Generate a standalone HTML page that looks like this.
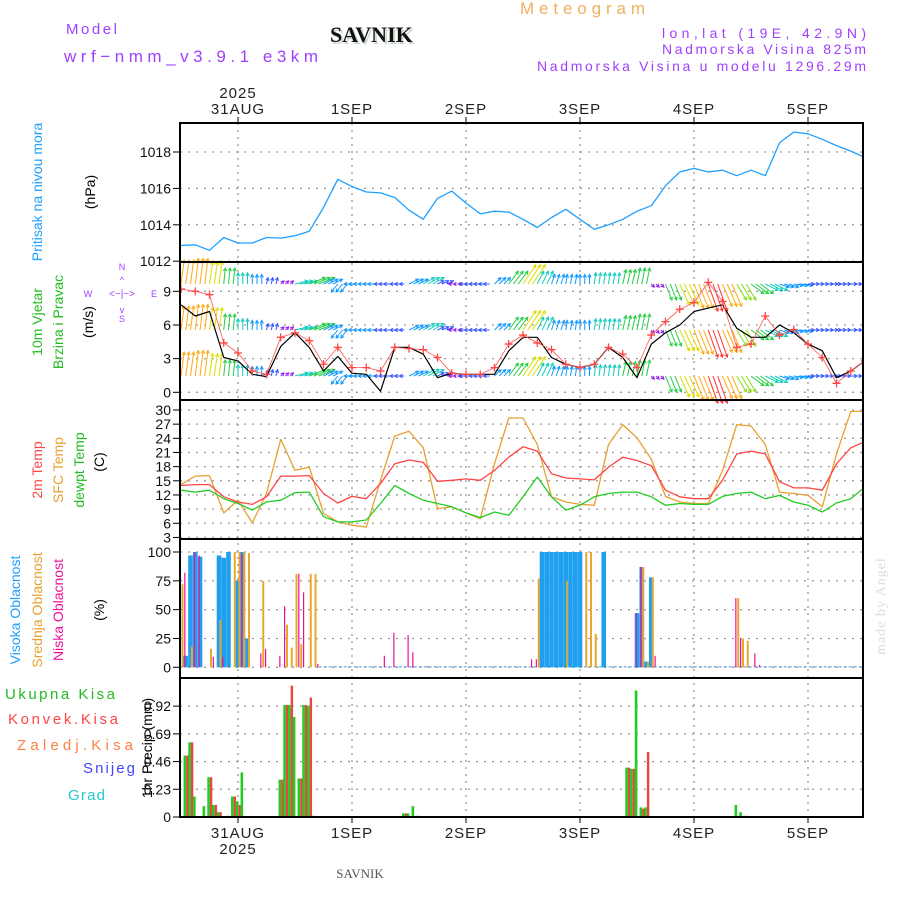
<!DOCTYPE html>
<html><head><meta charset="utf-8"><title>Meteogram SAVNIK</title>
<style>
html,body{margin:0;padding:0;background:#fff;}
svg{display:block;font-family:"Liberation Sans",sans-serif;}
</style></head>
<body>
<svg id="chart" width="900" height="900" viewBox="0 0 900 900" xmlns="http://www.w3.org/2000/svg">
<defs><clipPath id="plotclip"><rect x="180" y="123" width="683" height="694"/></clipPath></defs>
<g>
<text x="520" y="14" fill="#f0b060" font-size="17" textLength="125" lengthAdjust="spacing">Meteogram</text>
<text x="332" y="44" fill="#c8d8c8" font-family="Liberation Serif,serif" font-weight="bold" font-size="22">SAVNIK</text>
<text x="330" y="42" fill="#111" font-family="Liberation Serif,serif" font-weight="bold" font-size="22">SAVNIK</text>
<text x="66" y="34" fill="#a040ff" font-size="15" textLength="51" lengthAdjust="spacing">Model</text>
<text x="64" y="62" fill="#a040ff" font-size="17" textLength="254" lengthAdjust="spacing">wrf−nmm_v3.9.1 e3km</text>
<text x="662" y="38" fill="#a040ff" font-size="14" textLength="204" lengthAdjust="spacing">lon,lat (19E, 42.9N)</text>
<text x="662" y="54" fill="#a040ff" font-size="14" textLength="204" lengthAdjust="spacing">Nadmorska Visina 825m</text>
<text x="537" y="71" fill="#a040ff" font-size="14" textLength="329" lengthAdjust="spacing">Nadmorska Visina u modelu 1296.29m</text>
<text x="238" y="98" fill="#222" font-size="15" text-anchor="middle" letter-spacing="1">2025</text>
<text x="360" y="878" fill="#555" font-size="13" font-family="Liberation Serif,serif" text-anchor="middle">SAVNIK</text>
<text x="0" y="0" fill="#d8e0d8" font-size="14" font-family="Liberation Serif,serif" letter-spacing="1" transform="translate(885,655) rotate(-90)">made by Angel</text>
</g>
<g id="labels">
<text transform="translate(42,192) rotate(-90)" text-anchor="middle" fill="#1ea0ff" font-size="14">Pritisak na nivou mora</text>
<text transform="translate(95,192) rotate(-90)" text-anchor="middle" fill="#000" font-size="14">(hPa)</text>
<text transform="translate(42,322) rotate(-90)" text-anchor="middle" fill="#22bb22" font-size="14">10m Vjetar</text>
<text transform="translate(63,322) rotate(-90)" text-anchor="middle" fill="#22bb22" font-size="14">Brzina i Pravac</text>
<text transform="translate(93,322) rotate(-90)" text-anchor="middle" fill="#000" font-size="14">(m/s)</text>
<g fill="#a040ff" font-size="9">
<text x="122" y="270" text-anchor="middle">N</text><text x="122" y="322" text-anchor="middle">S</text>
<text x="88" y="297" text-anchor="middle">W</text><text x="154" y="297" text-anchor="middle">E</text>
<text x="122" y="297" text-anchor="middle" font-size="10">&lt;−|−&gt;</text>
<text x="122" y="283" text-anchor="middle">^</text><text x="122" y="313" text-anchor="middle">v</text>
</g>
<text transform="translate(42,470) rotate(-90)" text-anchor="middle" fill="#ff4444" font-size="14">2m Temp</text>
<text transform="translate(63,470) rotate(-90)" text-anchor="middle" fill="#e8a030" font-size="14">SFC Temp</text>
<text transform="translate(84,470) rotate(-90)" text-anchor="middle" fill="#22bb22" font-size="14">dewpt Temp</text>
<text transform="translate(104,462) rotate(-90)" text-anchor="middle" fill="#000" font-size="14">(C)</text>
<text transform="translate(20,610) rotate(-90)" text-anchor="middle" fill="#1ea0ff" font-size="14">Visoka Oblacnost</text>
<text transform="translate(42,610) rotate(-90)" text-anchor="middle" fill="#e8a030" font-size="14">Srednja Oblacnost</text>
<text transform="translate(63,610) rotate(-90)" text-anchor="middle" fill="#ee1199" font-size="14">Niska Oblacnost</text>
<text transform="translate(104,610) rotate(-90)" text-anchor="middle" fill="#000" font-size="14">(%)</text>
<text x="5" y="699" fill="#22bb22" font-size="15" textLength="110" lengthAdjust="spacing">Ukupna Kisa</text>
<text x="8" y="724" fill="#ff4444" font-size="15" textLength="110" lengthAdjust="spacing">Konvek.Kisa</text>
<text x="17" y="750" fill="#ff8040" font-size="15" textLength="116" lengthAdjust="spacing">Zaledj.Kisa</text>
<text x="83" y="773" fill="#4444ff" font-size="15" textLength="52" lengthAdjust="spacing">Snijeg</text>
<text x="68" y="800" fill="#22cccc" font-size="15" textLength="37" lengthAdjust="spacing">Grad</text>
<text transform="translate(152,748) rotate(-90)" text-anchor="middle" fill="#000" font-size="14">1hr Precip (mm)</text>
</g>
<g id="grid"></g>
<g id="marks" clip-path="url(#plotclip)"></g>
<g id="frames"></g>
</svg>
<script>
// ---- data ----
const dayLabels = ["31AUG","1SEP","2SEP","3SEP","4SEP","5SEP"];
const dayHours = [0,24,48,72,96,120];
const hours3 = [-12,-9,-6,-3,0,3,6,9,12,15,18,21,24,27,30,33,36,39,42,45,48,51,54,57,60,63,66,69,72,75,78,81,84,87,90,93,96,99,102,105,108,111,114,117,120,123,126,129,132];
const pressure = [1012.86,1012.9,1012.6,1013.3,1013.0,1013.0,1013.3,1013.27,1013.4,1013.65,1014.95,1016.5,1016.1,1015.8,1015.75,1015.5,1014.8,1014.3,1015.45,1015.85,1015.2,1014.6,1014.75,1014.7,1014.3,1013.85,1014.4,1014.85,1014.3,1013.75,1014.0,1014.3,1014.75,1015.05,1016.15,1016.9,1017.1,1016.9,1017.0,1016.7,1017.0,1016.7,1018.5,1019.1,1019.0,1018.7,1018.35,1018.05,1017.7];
const windSpeed = [7.8,6.8,7.2,3.1,2.8,1.6,1.4,4.1,5.3,4.0,1.9,3.2,1.7,1.6,0.1,4.0,4.0,3.4,1.3,1.7,1.6,1.6,1.6,3.7,4.9,4.9,3.1,2.5,2.2,2.5,4.0,3.1,1.3,4.3,5.3,6.0,7.2,7.5,7.8,5.7,4.9,4.9,6.0,5.3,4.3,3.7,1.3,1.9,2.8];
const windGust = [9.2,9.0,8.7,4.4,3.5,1.9,1.6,4.9,5.3,4.6,2.5,4.0,2.2,2.2,1.9,4.0,3.9,3.8,3.1,1.7,1.6,1.6,2.2,4.3,5.1,4.4,3.8,2.5,2.2,2.5,4.0,3.4,2.2,5.1,6.3,7.4,8.0,9.8,8.1,4.0,4.3,6.8,5.1,5.6,4.3,3.1,0.8,1.9,2.8];
const windU = [1,1,1,0.5,0,0,0.5,1,4,5,3,-2,-2.5,-2.5,-2,-1.5,3,3.5,2,-1,-2,-2,2,3,4,2,1,0.5,0,0.5,0.5,1,1,1,2,3,3,3,3,3,4,4,3,3,2,2,1.5,2,2.5];
const windV = [7.5,8,7,5,3.5,3,2,1,1,2,1.5,-2.5,0,0,0,0,1.5,2,1,0,0,0,2,4,6,4,3,3,3,3.5,3.5,4.5,5,-1,-5,-6.5,-7.5,-8.5,-7,-5,-3,-2,-1,-0.5,0,0,0,0,0];
const temp2m = [14.0,14.2,14.2,11.6,10.5,10.0,11.6,16.0,16.0,16.1,12.3,10.3,11.7,11.2,14.4,18.6,19.4,18.9,14.9,15.1,15.4,15.1,17.2,20.0,22.2,21.3,16.5,15.6,15.4,15.2,17.9,20.0,19.3,18.2,13.0,11.6,11.2,11.2,15.1,20.7,21.3,20.7,14.8,13.5,13.5,13.0,18.6,22.0,23.3];
const tempSfc = [14.2,16.0,16.1,8.2,10.9,6.1,12.3,23.8,17.2,17.9,8.1,6.3,5.6,5.2,15.1,24.5,25.5,22.0,9.1,9.5,8.2,7.0,18.6,28.3,28.3,22.7,11.6,10.5,10.0,9.8,22.7,26.9,24.1,19.6,11.7,10.5,10.2,10.2,17.2,26.9,26.6,22.7,12.6,12.3,11.9,9.5,20.7,29.7,29.7];
const dewpt = [13.0,12.6,13.0,11.2,10.2,8.8,10.5,10.9,12.5,12.6,7.4,6.3,6.3,6.7,10.2,14.0,12.3,10.9,10.2,9.5,8.2,7.2,8.4,7.7,11.6,15.8,11.6,8.8,9.8,11.6,12.3,12.6,12.6,11.6,9.8,10.2,10.0,10.0,11.7,12.3,12.6,11.2,11.9,10.5,9.8,8.4,10.3,11.2,13.7];
const cloudHours = [-12,-11,-10,-9,-8,-6,-5,-4,-3,-2,-1,0,1,2,5,6,9,10,11,12,13,14,15,16,17,31,33,36,37,40,62,63,64,65,66,67,68,69,70,71,72,73,74,75,77,84,85,86,87,88,105,106,107,109,110];
const cloudHigh = [0,10,97,100,96,0,0,97,95,100,0,75,100,25,0,0,0,0,0,0,0,0,0,0,0,0,0,0,0,0,0,0,100,100,100,100,100,100,100,100,100,0,0,0,100,47,87,5,78,0,0,0,0,0,0];
const cloudMid = [72,0,18,0,0,16,0,41,0,0,100,100,100,99,75,0,0,37,17,81,20,0,81,81,0,0,0,0,0,0,0,77,0,0,0,0,0,75,0,0,0,100,100,29,0,0,87,5,78,0,60,25,23,0,0];
const cloudLow = [0,82,0,100,97,0,9,0,9,0,0,0,98,0,12,16,10,53,0,0,81,65,0,0,3,10,30,28,13,1,7,7,0,0,0,0,0,0,0,0,0,0,0,0,0,47,87,0,0,10,60,25,0,12,2];
const rainHours = [-11,-10,-9,-7,-6,-5,-4,-2,-1,0,1,9,10,11,12,13,14,15,16,35,36,37,38,82,83,84,85,86,105,106,107,110];
const rainTotal = [0.51,0.62,0.17,0.09,0.33,0.1,0.04,0.01,0.17,0.13,0.37,0.31,0.93,0.93,0.83,0.32,0.93,0.92,0.01,0.03,0.03,0.09,0.01,0.41,0.4,1.05,0.08,0.08,0.1,0.04,0.01,0.005];
const rainConv = [0.51,0.62,0.0,0.0,0.33,0.1,0.04,0.0,0.17,0.1,0.0,0.31,0.93,1.09,0.0,0.32,0.93,0.99,0.0,0.03,0.0,0.0,0.0,0.41,0.4,0.0,0.07,0.54,0.0,0.0,0.0,0.005];
const pTicks = [1012,1014,1016,1018];
const wTicks = [0,3,6,9];
const tTicks = [3,6,9,12,15,18,21,24,27,30];
const cTicks = [0,25,50,75,100];
const rTicks = [0,0.23,0.46,0.69,0.92];

// ---- scales ----
const NS="http://www.w3.org/2000/svg";
const X0=180, X1=863;
const xOf = h => 238 + h*4.75;
const yP = v => 152 + (1018-v)*18.2;
const yW = v => 392.3 - v*11.22;
const yT = v => 410 + (30-v)*4.72;
const yC = v => 667.3 - v*1.153;
const yR = v => 817 - v*120.5;
const panels = [[123,262],[262,400],[400,539],[539,678],[678,817]];
function mk(tag, attrs, parent){const e=document.createElementNS(NS,tag);for(const k in attrs)e.setAttribute(k,attrs[k]);parent.appendChild(e);return e;}
const grid=document.getElementById('grid'), marks=document.getElementById('marks'), frames=document.getElementById('frames');

dayHours.forEach((h,i)=>{
  const x=xOf(h);
  const l=mk('line',{x1:x,x2:x,y1:123,y2:817,stroke:'#999','stroke-dasharray':'2,5','stroke-width':1.3},grid);
  
  
  const t=mk('text',{x:x,y:114,'text-anchor':'middle','font-size':15,fill:'#222','letter-spacing':1},grid);
  t.textContent=dayLabels[i];
  
  
  const b=mk('text',{x:x,y:838,'text-anchor':'middle','font-size':15,fill:'#222','letter-spacing':1},grid);
  b.textContent=dayLabels[i];
  
  
  mk('line',{x1:x,x2:x,y1:117,y2:123,stroke:'#000'},grid);
  mk('line',{x1:x,x2:x,y1:817,y2:823,stroke:'#000'},grid);
});
const yb=mk('text',{x:xOf(0),y:854,'text-anchor':'middle','font-size':15,fill:'#222','letter-spacing':1},grid);
yb.textContent='2025';



function yTicks(ticks, f, name, fmt){
  ticks.forEach(v=>{
    const y=f(v);
    const g=mk('line',{x1:X0,x2:X1,y1:y,y2:y,stroke:'#999','stroke-dasharray':'2,6','stroke-width':1.3},grid);
    
    
    mk('line',{x1:173,x2:180,y1:y,y2:y,stroke:'#000'},grid);
    const t=mk('text',{x:171,y:y+5,'text-anchor':'end','font-size':14,fill:'#111'},grid);
    t.textContent=fmt?fmt(v):String(v);
    
    
  });
}
yTicks(pTicks,yP,'pressure');
yTicks(wTicks,yW,'wind');
yTicks(tTicks,yT,'temp');
yTicks(cTicks,yC,'cloud');
yTicks(rTicks,yR,'precip',v=>v===0?'0':v.toFixed(2));

function line(xs, ys, color, name, w){
  const d=xs.map((h,i)=>(i?'L':'M')+xOf(h).toFixed(1)+','+ys[i].toFixed(1)).join('');
  const p=mk('path',{d:d,fill:'none',stroke:color,'stroke-width':w||1.3,'stroke-linejoin':'round'},marks);
  
  
}
line(hours3, pressure.map(yP), '#1ea0ff','pressure-line');

function windColor(s){
  if(s<1.5) return '#9922ee'; if(s<2.5) return '#3355ff'; if(s<3.5) return '#1199ff';
  if(s<4.5) return '#11ccbb'; if(s<5.5) return '#22cc44'; if(s<6.5) return '#88dd11';
  if(s<7.5) return '#dddd00'; if(s<8.5) return '#ffaa11'; return '#ff3333';
}
const rows=[284,330,376];
hours3.forEach((h,i)=>{
  const u=windU[i], v=windV[i], s=Math.hypot(u,v);
  const col=windColor(s);
  for(let k=0;k<3;k++){
    const hh=h+k;
    rows.forEach(ry=>{
      const x=xOf(hh), dx=u*3.2, dy=-v*3.2;
      const a=mk('line',{x1:x,y1:ry,x2:x+dx,y2:ry+dy,stroke:col,'stroke-width':1},marks);
      
      
      if(s>0.3){
        const ang=Math.atan2(dy,dx), L=3.5;
        const hx=x+dx, hy=ry+dy;
        mk('path',{d:`M${hx-L*Math.cos(ang-0.5)},${hy-L*Math.sin(ang-0.5)}L${hx},${hy}L${hx-L*Math.cos(ang+0.5)},${hy-L*Math.sin(ang+0.5)}`,fill:'none',stroke:col,'stroke-width':1},marks);
      }
    });
  }
});
line(hours3, windSpeed.map(yW), '#000','wind-speed-line',1.2);
line(hours3, windGust.map(yW), '#ff5555','wind-gust-line',0.8);
hours3.forEach((h,i)=>{
  const x=xOf(h), y=yW(windGust[i]);
  const c=mk('path',{d:`M${x-4},${y}H${x+4}M${x},${y-4}V${y+4}`,stroke:'#ff4444','stroke-width':1.3},marks);
  
  
});

line(hours3, tempSfc.map(yT), '#e8a030','sfc-temp-line');
line(hours3, temp2m.map(yT), '#ff4444','temp-2m-line');
line(hours3, dewpt.map(yT), '#22cc22','dewpoint-line');

const cb=mk('line',{x1:xOf(17),x2:X1,y1:yC(0)-0.5,y2:yC(0)-0.5,stroke:'#88bbdd','stroke-width':1.5,'stroke-dasharray':'3,2'},marks);


cloudHours.forEach((h,i)=>{
  const x=xOf(h);
  if(cloudHigh[i]>0){const r=mk('rect',{x:x-2.3,y:yC(cloudHigh[i]),width:4.6,height:yC(0)-yC(cloudHigh[i]),fill:'#1ea0ee'},marks);
    
    }
  if(cloudMid[i]>0){const r=mk('rect',{x:x+0.5,y:yC(cloudMid[i]),width:2,height:yC(0)-yC(cloudMid[i]),fill:'#e8a830'},marks);
    
    }
  if(cloudLow[i]>0){const r=mk('rect',{x:x-1.5,y:yC(cloudLow[i]),width:1.2,height:yC(0)-yC(cloudLow[i]),fill:'#ee1199'},marks);
    
    }
});

rainHours.forEach((h,i)=>{
  const x=xOf(h);
  if(rainTotal[i]>0){const r=mk('rect',{x:x-2.2,y:yR(rainTotal[i]),width:2.6,height:yR(0)-yR(rainTotal[i]),fill:'#22cc22'},marks);
    
    }
  if(rainConv[i]>0){const r=mk('rect',{x:x+0.4,y:yR(rainConv[i]),width:2.4,height:yR(0)-yR(rainConv[i]),fill:'#ee4444'},marks);
    
    }
});

panels.forEach((p,i)=>{
  const r=mk('rect',{x:X0,y:p[0],width:X1-X0,height:p[1]-p[0],fill:'none',stroke:'#000','stroke-width':2},frames);
  
  
});
</script>
</body></html>
